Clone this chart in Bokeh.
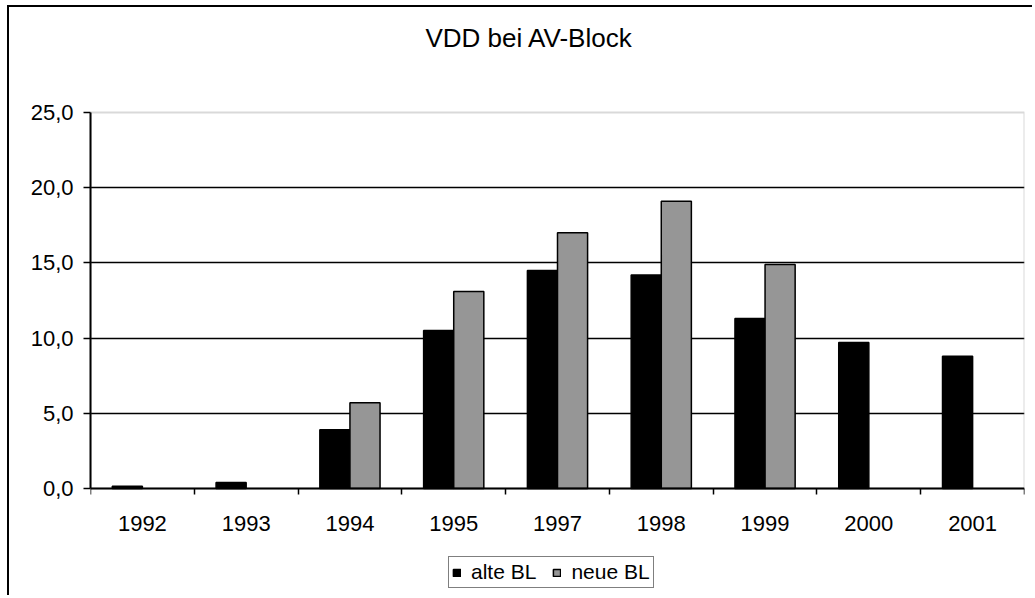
import math
from bokeh.plotting import figure
from bokeh.models import (FixedTicker, ColumnDataSource, Legend, LegendItem, Range1d,
                          BoxAnnotation)
from bokeh.transform import dodge
from bokeh.embed import file_html
from bokeh.resources import INLINE

# ---- data ----
years = ["1992", "1993", "1994", "1995", "1997", "1998", "1999", "2000", "2001"]
alte_bl = [0.15, 0.4, 3.9, 10.5, 14.5, 14.2, 11.3, 9.7, 8.8]
neue_bl = [math.nan, math.nan, 5.7, 13.1, 17.0, 19.1, 14.9, math.nan, math.nan]
series_names = ["alte BL", "neue BL"]
y_ticks = [0, 5, 10, 15, 20, 25]
y_tick_labels = ["0,0", "5,0", "10,0", "15,0", "20,0", "25,0"]
title_text = "VDD bei AV-Block"

FONT = "Liberation Sans"

# ---- layout (pixels) ----
Y_MIN, Y_MAX = 0, 25
PA_TOP, PA_BOTTOM = 112, 488        # plot area (page px)
CONTENT_TOP = 7
FIG_H = 590
FRAME_TOP = 69
FRAME_BOTTOM = CONTENT_TOP + FIG_H
ppu = (PA_BOTTOM - PA_TOP) / (Y_MAX - Y_MIN)
y_start = Y_MIN - (FRAME_BOTTOM - PA_BOTTOM) / ppu
y_end = Y_MAX + (PA_TOP - FRAME_TOP) / ppu

xc = [i + 0.5 for i in range(len(years))]
src = ColumnDataSource(dict(x=xc, alte=alte_bl, neue=neue_bl, year=years))

p = figure(width=1025, height=FIG_H, output_backend="svg", toolbar_location=None,
           x_range=Range1d(0, len(years)), y_range=Range1d(y_start, y_end),
           min_border_left=81, min_border_right=10,
           min_border_top=FRAME_TOP - CONTENT_TOP, min_border_bottom=0,
           background_fill_color="white", border_fill_color="white",
           margin=(5, 0, 0, 7), title=title_text)
p.styles = {"border-left": "2px solid black", "border-top": "2px solid black"}

p.title.align = "left"
p.title.offset = 335
p.title.vertical_align = "top"
p.title.standoff = 30
p.title.text_font = FONT
p.title.text_font_size = "26px"
p.title.text_font_style = "normal"
p.title.text_color = "black"

p.outline_line_color = None
area = BoxAnnotation(left=0, right=len(years), bottom=Y_MIN, top=Y_MAX,
                     fill_alpha=0, line_color="#808080", line_width=2, level="underlay")
p.add_layout(area)

bw = 0.29
r1 = p.vbar(x=dodge("x", -bw / 2, range=p.x_range), top="alte", width=bw, source=src,
            fill_color="black", line_color="black", line_width=1.5)
r2 = p.vbar(x=dodge("x", bw / 2, range=p.x_range), top="neue", width=bw, source=src,
            fill_color="#969696", line_color="black", line_width=1.5)

# axes
xa = p.xaxis[0]
xa.fixed_location = Y_MIN
xa.ticker = FixedTicker(ticks=xc, minor_ticks=list(range(len(years) + 1)))
xa.major_label_overrides = {c: y for c, y in zip(xc, years)}
xa.major_tick_out = 0
xa.major_tick_in = 0
xa.minor_tick_out = 6
xa.minor_tick_in = 0
xa.minor_tick_line_color = "black"
xa.minor_tick_line_width = 1.5
xa.axis_line_color = "black"
xa.axis_line_width = 2
xa.major_label_standoff = 21
xa.major_label_text_font = FONT
xa.major_label_text_font_size = "22px"
xa.major_label_text_color = "black"

ya = p.yaxis[0]
ya.bounds = (Y_MIN, Y_MAX)
ya.ticker = FixedTicker(ticks=y_ticks)
ya.major_label_overrides = {t: s for t, s in zip(y_ticks, y_tick_labels)}
ya.major_tick_out = 7
ya.major_tick_in = 0
ya.major_tick_line_color = "black"
ya.major_tick_line_width = 1.5
ya.minor_tick_line_color = None
ya.axis_line_color = "black"
ya.axis_line_width = 2
ya.major_label_standoff = 10
ya.major_label_text_font = FONT
ya.major_label_text_font_size = "22px"
ya.major_label_text_color = "black"

p.xgrid.visible = False
p.ygrid.ticker = FixedTicker(ticks=y_ticks[1:-1])
p.ygrid.grid_line_color = "black"
p.ygrid.grid_line_width = 1.5

legend = Legend(items=[LegendItem(label=series_names[0], renderers=[r1]),
                       LegendItem(label=series_names[1], renderers=[r2])],
                location=(358, FRAME_BOTTOM - 588), orientation="horizontal",
                label_text_font=FONT, label_text_font_size="21px",
                label_text_color="black",
                glyph_width=9, glyph_height=9, label_standoff=10, spacing=16,
                padding=3, margin=0, border_line_color="black",
                border_line_width=1.5, background_fill_color="white",
                background_fill_alpha=1.0)
p.add_layout(legend)

open("out.html", "w").write(file_html(p, INLINE))
